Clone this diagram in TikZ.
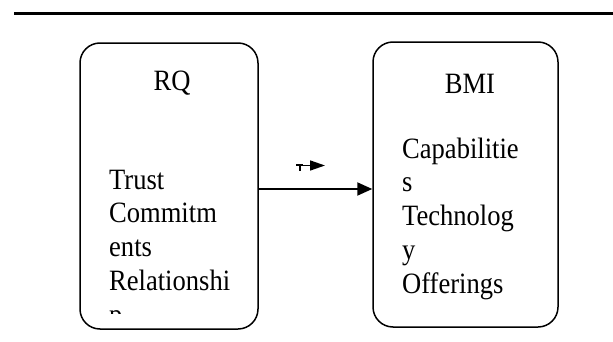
\documentclass[tikz,border=0pt]{standalone}
\usepackage{fontspec}
\setmainfont{Liberation Serif}[FakeStretch=0.9]
\usetikzlibrary{arrows.meta}
\tikzset{
  roundbox/.style={draw, line width=1.5pt, rounded corners=20pt},
  boxtext/.style={anchor=base west, inner sep=0pt, align=left,
    font=\fontsize{29.5}{33.7}\selectfont},
  boxhead/.style={anchor=base, inner sep=0pt, font=\fontsize{29.5}{33.7}\selectfont}
}

\begin{document}
\begin{tikzpicture}[x=1pt, y=1pt]

  \useasboundingbox (0, 0) rectangle (613, 341);

  % rule at the top
  \draw[line width=3.5pt] (14, 327.5) -- (613, 327.5);

  % the two boxes
  \node[roundbox, minimum width=178pt, minimum height=286pt] (rq) at (169, 155) {};
  \node[roundbox, minimum width=185pt, minimum height=285pt] (bmi) at (465.5, 156.5) {};

  \node[boxhead] (rqhead) at (172, 251) {RQ};
  \node[boxhead] (bmihead) at (470, 248) {BMI};

  % base of a multi-line node is its last line
  \begin{scope}
    \clip (80, 28) rectangle (258, 298);
    \node[boxtext] (rqtext) at (109, 17)
      {Trust\\Commitm\\ents\\Relationshi\\p};
  \end{scope}

  \node[boxtext] (bmitext) at (402, 48)
    {Capabilitie\\s\\Technolog\\y\\Offerings};

  % link
  \draw[line width=2pt, -{Triangle[length=15pt, width=13pt]}]
    ([yshift=-3pt]rq.east) -- ([yshift=-3pt]rq.east -| bmi.west);

  % small mark above the link
  \coordinate (markL) at (303, 175.5);
  \coordinate (markR) at (325, 175.5);
  \draw[line width=2pt] (296, 176) -- (303, 176) (299.5, 176) -- (299.5, 170);
  \draw[line width=1.5pt, -{Triangle[length=15pt, width=10pt]}] (markL) -- (markR);

\end{tikzpicture}
\end{document}
